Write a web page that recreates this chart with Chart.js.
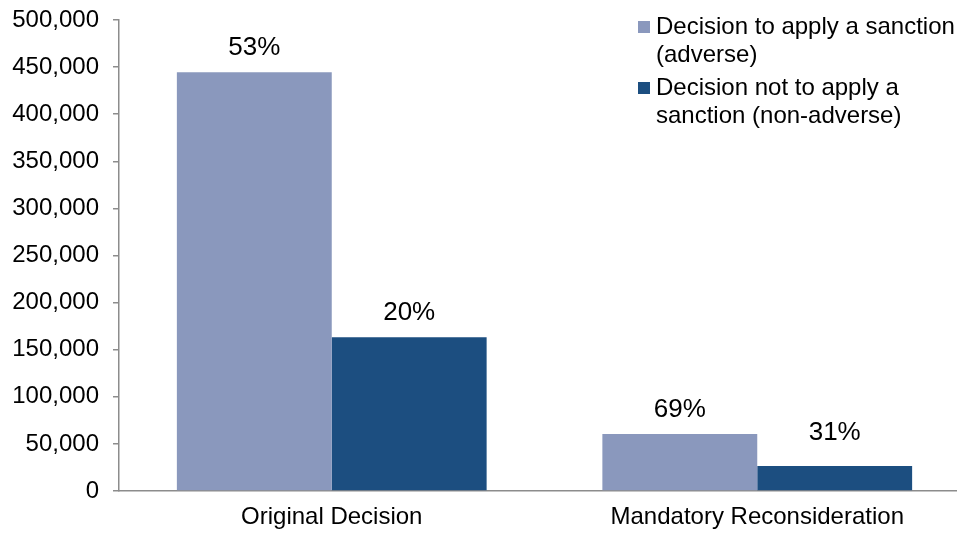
<!DOCTYPE html>
<html>
<head>
<meta charset="utf-8">
<script src="https://cdn.jsdelivr.net/npm/chart.js@4/dist/chart.umd.min.js"></script>
<style>
html,body{margin:0;padding:0;background:#fff;overflow:hidden;width:957px;height:533px;}
canvas{display:block;}
</style>
</head>
<body>
<canvas id="c" width="980" height="533"></canvas>
<script>
const categories = ["Original Decision", "Mandatory Reconsideration"];
const adverseValues = [444500, 60500];
const nonAdverseValues = [163300, 26600];
const adversePct = ["53%", "69%"];
const nonAdversePct = ["20%", "31%"];
const seriesNames = [["Decision to apply a sanction", "(adverse)"], ["Decision not to apply a", "sanction (non-adverse)"]];
const yTicks = [0, 50000, 100000, 150000, 200000, 250000, 300000, 350000, 400000, 450000, 500000];

const FONT = "'Liberation Sans', Arial, sans-serif";
const colors = ["#8A98BD", "#1C4E80"];

const pctLabels = {
  id: 'pctLabels',
  afterDatasetsDraw(chart, args, opts) {
    const ctx = chart.ctx;
    ctx.save();
    ctx.font = "26px " + FONT;
    ctx.fillStyle = "#000";
    ctx.textAlign = "center";
    ctx.textBaseline = "alphabetic";
    chart.data.datasets.forEach((ds, di) => {
      const meta = chart.getDatasetMeta(di);
      meta.data.forEach((el, i) => {
        const lift = (opts.extraLift && opts.extraLift[di] && opts.extraLift[di][i]) || 0;
        ctx.fillText(ds.pct[i], el.x, el.y - 17 - lift);
      });
    });
    ctx.restore();
  }
};

const customLegend = {
  id: 'customLegend',
  afterDraw(chart) {
    const ctx = chart.ctx;
    ctx.save();
    ctx.font = "24px " + FONT;
    ctx.textAlign = "left";
    ctx.textBaseline = "middle";
    let y = 27;
    chart.data.datasets.forEach((ds, di) => {
      ctx.fillStyle = ds.backgroundColor;
      ctx.fillRect(638, y - 6, 12, 12);
      ctx.fillStyle = "#000";
      ds.legendLines.forEach((line, li) => {
        ctx.fillText(line, 656, y + li * 28);
      });
      y += ds.legendLines.length * 28 + 5;
    });
    ctx.restore();
  }
};

new Chart(document.getElementById('c'), {
  type: 'bar',
  data: {
    labels: categories,
    datasets: [
      { label: seriesNames[0].join(' '), legendLines: seriesNames[0], data: adverseValues, pct: adversePct, backgroundColor: colors[0] },
      { label: seriesNames[1].join(' '), legendLines: seriesNames[1], data: nonAdverseValues, pct: nonAdversePct, backgroundColor: colors[1] }
    ]
  },
  options: {
    responsive: false,
    animation: false,
    devicePixelRatio: 1,
    layout: { padding: { left: 0, top: 20, right: 10, bottom: 0 } },
    datasets: { bar: { categoryPercentage: 0.728, barPercentage: 1.0 } },
    plugins: {
      legend: { display: false },
      tooltip: { enabled: false },
      pctLabels: { extraLift: [[0, 0], [0, 9]] }
    },
    scales: {
      x: {
        grid: { display: false, drawTicks: false },
        border: { display: true, color: '#8c8c8c', width: 1.5 },
        ticks: { color: '#000', font: { family: FONT, size: 24 }, padding: 12, maxRotation: 0 },
        afterFit(scale) { scale.height = 42; scale.paddingLeft = 0; scale.paddingRight = 0; }
      },
      y: {
        min: 0,
        max: 500000,
        afterBuildTicks(scale) { scale.ticks = yTicks.map(v => ({ value: v })); },
        grid: { drawOnChartArea: false, drawTicks: true, tickLength: 6, color: '#8c8c8c', lineWidth: 1.5 },
        border: { display: true, color: '#8c8c8c', width: 1.5 },
        ticks: {
          color: '#000',
          font: { family: FONT, size: 24 },
          padding: 14,
          callback: v => v.toLocaleString('en-US')
        },
        afterFit(scale) { scale.width = 119; scale.paddingTop = 0; scale.paddingBottom = 0; }
      }
    }
  },
  plugins: [pctLabels, customLegend]
});
</script>
</body>
</html>
